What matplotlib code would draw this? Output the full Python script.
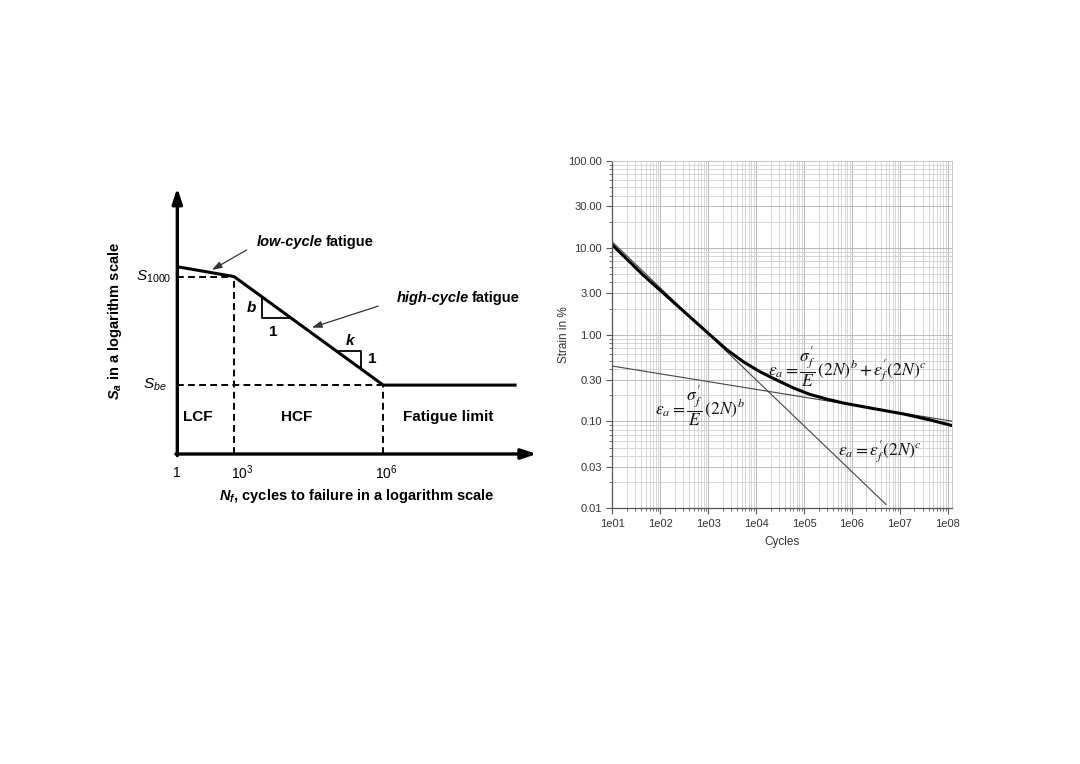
import numpy as np
import matplotlib
matplotlib.use("Agg")
from matplotlib import pyplot as plt
from matplotlib.ticker import FixedLocator, LogLocator, NullFormatter

plt.rcParams["font.family"] = ["Liberation Sans", "DejaVu Sans"]
plt.rcParams["mathtext.fontset"] = "custom"
plt.rcParams["mathtext.rm"] = "Liberation Sans"
plt.rcParams["mathtext.it"] = "Liberation Sans:italic"
plt.rcParams["mathtext.bf"] = "Liberation Sans:bold:italic"

# ---- left panel: schematic S-N curve (schematic units, not to scale) ----
sn_x = [0, 15.8, 57.3, 94.4]      # log N position: 1, 1e3, 1e6, end
sn_y = [70.4, 66.7, 25.9, 25.9]   # log Sa position
sn_tick_labels = ["1", "$10^3$", "$10^6$"]
region_labels = ["LCF", "HCF", "Fatigue limit"]

# ---- right panel: strain-life curve ----
total_cycles = [10, 44, 221, 1.1e3, 2.5e3, 5.4e3, 1.2e4, 2.7e4, 6e4, 1.33e5,
                3e5, 6.6e5, 2.4e6, 1.19e7, 4.3e7, 1.2e8]
total_strain = [10.8, 4.86, 2.19, 0.99, 0.665, 0.488, 0.374, 0.30, 0.243, 0.205,
                0.181, 0.163, 0.143, 0.122, 0.104, 0.09]
elastic_cycles = [10, 1.2e8]
elastic_strain = [0.435, 0.101]
plastic_cycles = [10, 5.1e6]
plastic_strain = [11.7, 0.0111]
y_ticks = [100, 30, 10, 3, 1, 0.3, 0.1, 0.03, 0.01]
y_tick_labels = ["100.00", "30.00", "10.00", "3.00", "1.00", "0.30", "0.10", "0.03", "0.01"]
x_ticks = [1e1, 1e2, 1e3, 1e4, 1e5, 1e6, 1e7, 1e8]
x_tick_labels = ["1e01", "1e02", "1e03", "1e04", "1e05", "1e06", "1e07", "1e08"]

fig = plt.figure(figsize=(10.8, 7.64), dpi=100)

# ================= left =================
ax = fig.add_axes([177.3 / 1080, 310 / 764, 359.4 / 1080, 266 / 764])
ax.set_xlim(0, 100)
ax.set_ylim(0, 100)
ax.axis("off")

arrow = dict(arrowstyle="-|>,head_length=0.9,head_width=0.3", lw=2.4, color="k",
             shrinkA=0, shrinkB=0)
ax.annotate("", xy=(100, 0), xytext=(-0.4, 0), arrowprops=arrow, annotation_clip=False)
ax.annotate("", xy=(0, 100), xytext=(0, -0.6), arrowprops=arrow, annotation_clip=False)

ax.plot(sn_x, sn_y, color="k", lw=2.2, solid_capstyle="butt", clip_on=False)

dash = dict(color="k", lw=1.4, ls=(0, (3.5, 2.2)), clip_on=False)
ax.plot([0, sn_x[1]], [sn_y[1], sn_y[1]], **dash)
ax.plot([sn_x[1], sn_x[1]], [0, sn_y[1]], **dash)
ax.plot([0, sn_x[2]], [sn_y[2], sn_y[2]], **dash)
ax.plot([sn_x[2], sn_x[2]], [0, sn_y[2]], **dash)


def curve(x):
    return np.interp(x, sn_x, sn_y)


# slope triangles
bx0, bx1 = 23.65, 31.55
ax.plot([bx0, bx0, bx1], [curve(bx0), curve(bx1), curve(bx1)], color="k", lw=1.3)
kx0, kx1 = 44.35, 51.0
ax.plot([kx0, kx1, kx1], [curve(kx0), curve(kx0), curve(kx1)], color="k", lw=1.3)

bold = dict(fontsize=11, fontweight="bold")
ax.text(20.7, 55.0, "b", ha="center", va="center", style="italic", **bold)
ax.text(26.6, 46.0, "1", ha="center", va="center", **bold)
ax.text(48.1, 42.4, "k", ha="center", va="center", style="italic", **bold)
ax.text(54.2, 35.7, "1", ha="center", va="center", **bold)

for xp, lab in zip([5.8, 33.3, 75.3], region_labels):
    ax.text(xp, 13.9, lab, ha="center", va="center", **bold)

ax.text(40.5, 79.8, "low-cycle", ha="right", va="center", style="italic", fontsize=10.5, fontweight="bold")
ax.text(41.3, 79.8, "fatigue", ha="left", va="center", fontsize=10.5, fontweight="bold")
ax.text(81.2, 58.5, "high-cycle", ha="right", va="center", style="italic", fontsize=10.5, fontweight="bold")
ax.text(82.0, 58.5, "fatigue", ha="left", va="center", fontsize=10.5, fontweight="bold")

thin_arrow = dict(arrowstyle="-|>,head_length=0.6,head_width=0.2", lw=0.9, color="#333333",
                  shrinkA=0, shrinkB=0)
ax.annotate("", xy=(9.6, 69.2), xytext=(19.3, 76.7), arrowprops=thin_arrow)
ax.annotate("", xy=(37.4, 47.5), xytext=(55.9, 55.6), arrowprops=thin_arrow)

for xp, lab in zip([0, sn_x[1] + 2.3, sn_x[2] + 0.8], sn_tick_labels):
    ax.text(xp, -7.2, lab, ha="center", va="center", fontsize=10)

ax.text(-1.6, sn_y[1], r"$\mathit{S}_{1000}$", ha="right", va="center", fontsize=11)
ax.text(-2.9, sn_y[2], r"$\mathit{S}_{be}$", ha="right", va="center", fontsize=11)

ax.text(49.9, -15.8, r"$\mathbf{N_f}$, cycles to failure in a logarithm scale",
        ha="center", va="center", fontsize=10.5, fontweight="bold")
ax.text(-17.4, 50.0, r"$\mathbf{S_a}$ in a logarithm scale", ha="center", va="center",
        rotation=90, fontsize=10.5, fontweight="bold")

# ================= right =================
ax2 = fig.add_axes([612.3 / 1080, 255.7 / 764, 339.4 / 1080, 347.3 / 764])
ax2.set_xscale("log")
ax2.set_yscale("log")
ax2.set_xlim(10, 1.2e8)
ax2.set_ylim(0.01, 100)

ax2.plot(plastic_cycles, plastic_strain, color="#444444", lw=0.8)
ax2.plot(elastic_cycles, elastic_strain, color="#444444", lw=0.8)
ax2.plot(total_cycles, total_strain, color="k", lw=2.2, solid_joinstyle="round")

ax2.yaxis.set_major_locator(FixedLocator(y_ticks))
ax2.set_yticklabels(y_tick_labels)
ax2.xaxis.set_major_locator(FixedLocator(x_ticks))
ax2.set_xticklabels(x_tick_labels)
ax2.xaxis.set_minor_locator(LogLocator(base=10, subs=np.arange(2, 10)))
ax2.yaxis.set_minor_locator(LogLocator(base=10, subs=np.arange(2, 10)))
ax2.xaxis.set_minor_formatter(NullFormatter())
ax2.yaxis.set_minor_formatter(NullFormatter())

ax2.grid(True, which="major", color="#b8b8b8", lw=0.7)
ax2.grid(True, which="minor", color="#cfcfcf", lw=0.6)
ax2.tick_params(which="both", labelsize=8, labelcolor="#333333", color="#555555")
ax2.tick_params(which="major", length=4, width=0.8)
ax2.tick_params(which="minor", length=2, width=0.6)
for side in ["top", "right"]:
    ax2.spines[side].set_color("#c8c8c8")
    ax2.spines[side].set_linewidth(0.7)
for side in ["left", "bottom"]:
    ax2.spines[side].set_color("#555555")
    ax2.spines[side].set_linewidth(0.9)

ax2.set_xlabel("Cycles", fontsize=8.5, color="#333333", labelpad=5)
ax2.set_ylabel("Strain in %", fontsize=8.5, color="#333333", labelpad=-1)

eq = dict(ha="center", va="center", fontsize=12.5, math_fontfamily="stix", color="#111111")
ax2.text(8e5, 0.42, r"$\varepsilon_a=\dfrac{\sigma^{\prime}_f}{E}\,(2N)^b+\varepsilon^{\prime}_f(2N)^c$", **eq)
ax2.text(660, 0.147, r"$\varepsilon_a=\dfrac{\sigma^{\prime}_f}{E}\,(2N)^b$", **eq)
ax2.text(3.8e6, 0.0443, r"$\varepsilon_a=\varepsilon^{\prime}_f(2N)^c$", **eq)

fig.savefig("out.png", dpi=100, facecolor="white")
